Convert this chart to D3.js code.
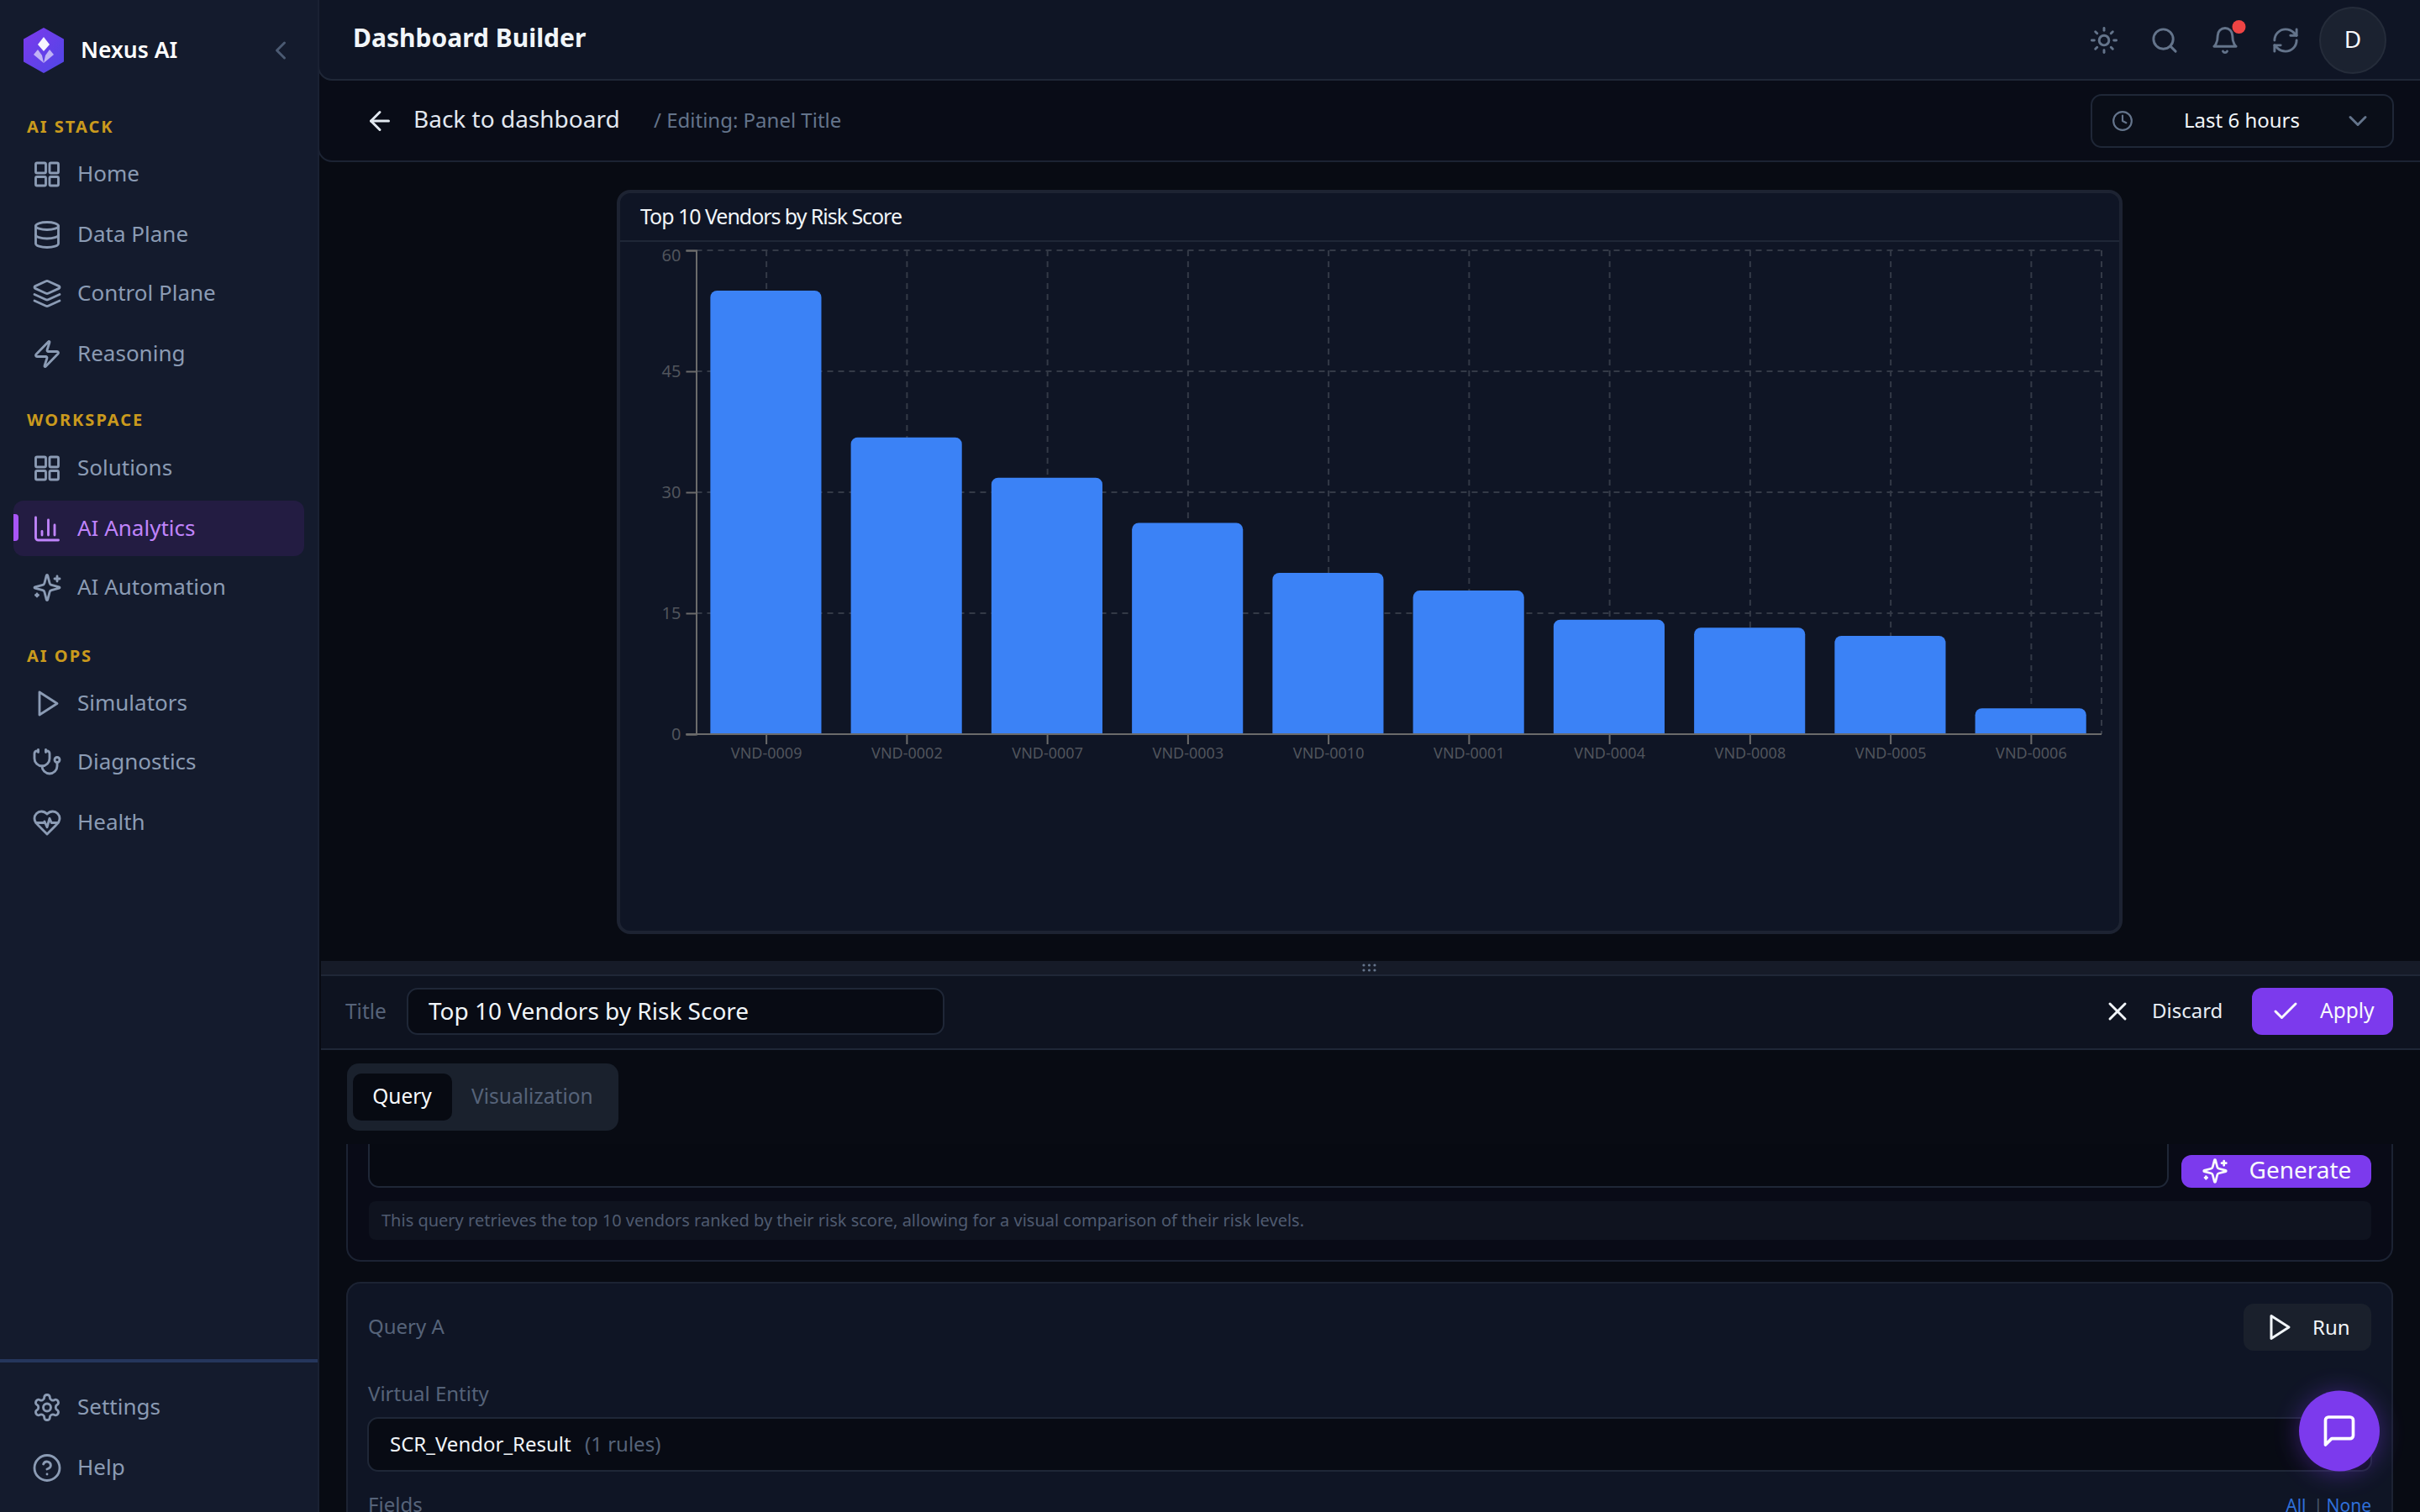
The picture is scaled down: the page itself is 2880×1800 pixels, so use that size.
<!DOCTYPE html>
<html>
<head>
<meta charset="utf-8">
<title>Dashboard Builder</title>
<script src="https://cdn.jsdelivr.net/npm/d3@7"></script>
<style>
html, body { margin: 0; padding: 0; background: #080b13; overflow: hidden; }
svg { display: block; }
text { font-family: "Noto Sans", sans-serif; }
</style>
</head>
<body>
<svg id="page" width="2880" height="1800"></svg>
<script>
// chart data
var vendors = ["VND-0009", "VND-0002", "VND-0007", "VND-0003", "VND-0010", "VND-0001", "VND-0004", "VND-0008", "VND-0005", "VND-0006"];
var riskScores = [55, 36.8, 31.8, 26.2, 20, 17.8, 14.2, 13.2, 12.2, 3.2];
var yTicks = [0, 15, 30, 45, 60];

// sidebar labels
var stackItems = ["Home", "Data Plane", "Control Plane", "Reasoning"];
var workspaceItems = ["Solutions", "AI Analytics", "AI Automation"];
var opsItems = ["Simulators", "Diagnostics", "Health"];
var footerItems = ["Settings", "Help"];

// lucide icon shapes
var icons = {
  grid: ["M4 3h6a1 1 0 0 1 1 1v6a1 1 0 0 1-1 1H4a1 1 0 0 1-1-1V4a1 1 0 0 1 1-1z", "M15 3h5a1 1 0 0 1 1 1v6a1 1 0 0 1-1 1h-5a1 1 0 0 1-1-1V4a1 1 0 0 1 1-1z", "M15 14h5a1 1 0 0 1 1 1v5a1 1 0 0 1-1 1h-5a1 1 0 0 1-1-1v-5a1 1 0 0 1 1-1z", "M4 14h6a1 1 0 0 1 1 1v5a1 1 0 0 1-1 1H4a1 1 0 0 1-1-1v-5a1 1 0 0 1 1-1z"],
  database: ["M3 5a9 3 0 1 0 18 0a9 3 0 1 0-18 0", "M3 5V19A9 3 0 0 0 21 19V5", "M3 12A9 3 0 0 0 21 12"],
  layers: ["m12.83 2.18a2 2 0 0 0-1.66 0L2.6 6.08a1 1 0 0 0 0 1.83l8.58 3.91a2 2 0 0 0 1.66 0l8.58-3.9a1 1 0 0 0 0-1.83Z", "m22 17.65-9.17 4.16a2 2 0 0 1-1.66 0L2 17.65", "m22 12.65-9.17 4.16a2 2 0 0 1-1.66 0L2 12.65"],
  zap: ["M4 14a1 1 0 0 1-.78-1.63l9.9-10.2a.5.5 0 0 1 .86.46l-1.92 6.02A1 1 0 0 0 13 10h7a1 1 0 0 1 .78 1.63l-9.9 10.2a.5.5 0 0 1-.86-.46l1.92-6.02A1 1 0 0 0 11 14z"],
  chart: ["M3 3v16a2 2 0 0 0 2 2h16", "M8 17v-3", "M13 17V5", "M18 17V9"],
  sparkles: ["M9.937 15.5A2 2 0 0 0 8.5 14.063l-6.135-1.582a.5.5 0 0 1 0-.962L8.5 9.936A2 2 0 0 0 9.937 8.5l1.582-6.135a.5.5 0 0 1 .963 0L14.063 8.5A2 2 0 0 0 15.5 9.937l6.135 1.581a.5.5 0 0 1 0 .964L15.5 14.063a2 2 0 0 0-1.437 1.437l-1.582 6.135a.5.5 0 0 1-.963 0z", "M20 3v4", "M22 5h-4", "M4 17v2", "M5 18H3"],
  play: ["M6 3l14 9-14 9z"],
  stethoscope: ["M11 2v2", "M5 2v2", "M5 3H4a2 2 0 0 0-2 2v4a6 6 0 0 0 12 0V5a2 2 0 0 0-2-2h-1", "M8 15a6 6 0 0 0 12 0v-3", "M18 10a2 2 0 1 0 4 0a2 2 0 1 0-4 0"],
  heart: ["M19 14c1.49-1.46 3-3.21 3-5.5A5.5 5.5 0 0 0 16.5 3c-1.76 0-3 .5-4.5 2-1.5-1.5-2.74-2-4.5-2A5.5 5.5 0 0 0 2 8.5c0 2.3 1.5 4.05 3 5.5l7 7Z", "M3.22 12H9.5l.5-1 2 4.5 2-7 1.5 3.5h5.27"],
  settings: ["M12.22 2h-.44a2 2 0 0 0-2 2v.18a2 2 0 0 1-1 1.73l-.43.25a2 2 0 0 1-2 0l-.15-.08a2 2 0 0 0-2.73.73l-.22.38a2 2 0 0 0 .73 2.73l.15.1a2 2 0 0 1 1 1.72v.51a2 2 0 0 1-1 1.74l-.15.09a2 2 0 0 0-.73 2.73l.22.38a2 2 0 0 0 2.73.73l.15-.08a2 2 0 0 1 2 0l.43.25a2 2 0 0 1 1 1.73V20a2 2 0 0 0 2 2h.44a2 2 0 0 0 2-2v-.18a2 2 0 0 1 1-1.73l.43-.25a2 2 0 0 1 2 0l.15.08a2 2 0 0 0 2.73-.73l.22-.39a2 2 0 0 0-.73-2.73l-.15-.08a2 2 0 0 1-1-1.74v-.5a2 2 0 0 1 1-1.74l.15-.09a2 2 0 0 0 .73-2.73l-.22-.38a2 2 0 0 0-2.73-.73l-.15.08a2 2 0 0 1-2 0l-.43-.25a2 2 0 0 1-1-1.73V4a2 2 0 0 0-2-2z", "M9 12a3 3 0 1 0 6 0a3 3 0 1 0-6 0"],
  help: ["M2 12a10 10 0 1 0 20 0a10 10 0 1 0-20 0", "M9.09 9a3 3 0 0 1 5.83 1c0 2-3 3-3 3", "M12 17h.01"],
  sun: ["M8 12a4 4 0 1 0 8 0a4 4 0 1 0-8 0", "M12 2v2", "M12 20v2", "m4.93 4.93 1.41 1.41", "m17.66 17.66 1.41 1.41", "M2 12h2", "M20 12h2", "m6.34 17.66-1.41 1.41", "m19.07 4.93-1.41 1.41"],
  search: ["M3 11a8 8 0 1 0 16 0a8 8 0 1 0-16 0", "m21 21-4.3-4.3"],
  bell: ["M6 8a6 6 0 0 1 12 0c0 7 3 9 3 9H3s3-2 3-9", "M10.3 21a1.94 1.94 0 0 0 3.4 0"],
  refresh: ["M3 12a9 9 0 0 1 9-9 9.75 9.75 0 0 1 6.74 2.74L21 8", "M21 3v5h-5", "M21 12a9 9 0 0 1-9 9 9.75 9.75 0 0 1-6.74-2.74L3 16", "M8 16H3v5"],
  clock: ["M2 12a10 10 0 1 0 20 0a10 10 0 1 0-20 0", "M12 6v6l4 2"],
  chevronDown: ["m6 9 6 6 6-6"],
  chevronLeft: ["m15 18-6-6 6-6"],
  arrowLeft: ["m12 19-7-7 7-7", "M19 12H5"],
  x: ["M18 6 6 18", "m6 6 12 12"],
  check: ["M20 6 9 17l-5-5"],
  message: ["M21 15a2 2 0 0 1-2 2H7l-4 4V5a2 2 0 0 1 2-2h14a2 2 0 0 1 2 2z"]
};

var svg = d3.select("#page");

// glow for the chat button
var defs = svg.append("defs");
var grad = defs.append("linearGradient").attr("id", "logoGrad")
  .attr("x1", 0).attr("y1", 0).attr("x2", 1).attr("y2", 1);
grad.append("stop").attr("offset", 0).attr("stop-color", "#7c3aed");
grad.append("stop").attr("offset", 1).attr("stop-color", "#4f46e5");
var glow = defs.append("filter").attr("id", "glow")
  .attr("x", "-50%").attr("y", "-50%").attr("width", "200%").attr("height", "200%");
glow.append("feGaussianBlur").attr("stdDeviation", 14);
defs.append("clipPath").attr("id", "scrollClip").append("rect")
  .attr("x", 382).attr("y", 1362).attr("width", 2498).attr("height", 438);

function box(parent, x, y, w, h, r, fill, stroke, sw) {
  return parent.append("rect")
    .attr("x", x).attr("y", y).attr("width", w).attr("height", h).attr("rx", r)
    .attr("fill", fill)
    .attr("stroke", stroke || "none")
    .attr("stroke-width", sw || 0);
}

function label(parent, str, x, y, size, color, weight, anchor) {
  return parent.append("text")
    .attr("x", x).attr("y", y)
    .attr("font-size", size)
    .attr("font-weight", weight || 400)
    .attr("fill", color)
    .attr("text-anchor", anchor || "start")
    .text(str);
}

function icon(parent, name, cx, cy, size, color, sw) {
  var k = size / 24;
  var g = parent.append("g")
    .attr("transform", "translate(" + (cx - size / 2) + "," + (cy - size / 2) + ") scale(" + k + ")")
    .attr("fill", "none")
    .attr("stroke", color)
    .attr("stroke-width", sw || 2)
    .attr("stroke-linecap", "round")
    .attr("stroke-linejoin", "round");
  g.selectAll("path").data(icons[name]).enter().append("path").attr("d", function (d) { return d; });
  return g;
}

//
// Header bars
//
var head = svg.append("g");
box(head, 379, 60, 2522, 132, 16, "#090c17", "#1c2333", 2);
box(head, 379, -30, 2522, 125, 16, "#0f1525", "#1f2737", 2);
label(head, "Dashboard Builder", 420, 56, 30, "#f1f5f9", 700);
icon(head, "sun", 2504, 48, 35, "#64748b");
icon(head, "search", 2576, 48, 35, "#64748b");
icon(head, "bell", 2648, 48, 35, "#64748b");
head.append("circle").attr("cx", 2664.5).attr("cy", 32).attr("r", 8).attr("fill", "#ef4444");
icon(head, "refresh", 2720, 48, 35, "#64748b");
head.append("circle").attr("cx", 2800).attr("cy", 48).attr("r", 39).attr("fill", "#1b2230").attr("stroke", "#252c3a").attr("stroke-width", 2);
label(head, "D", 2800, 57, 28, "#f8fafc", 400, "middle");

icon(head, "arrowLeft", 452, 144, 36, "#e2e8f0");
label(head, "Back to dashboard", 492, 152, 28, "#e2e8f0");
label(head, "/ Editing: Panel Title", 778, 152, 24, "#64748b");
box(head, 2489, 113, 359, 62, 12, "#0a0e18", "#1f2737", 2);
icon(head, "clock", 2526, 144, 26, "#64748b");
label(head, "Last 6 hours", 2599, 152, 24, "#f1f5f9");
icon(head, "chevronDown", 2806, 144, 36, "#64748b");

//
// Sidebar
//
var side = svg.append("g");
box(side, 0, 0, 380, 1800, 0, "#141b2d");
side.append("rect").attr("x", 378).attr("y", 0).attr("width", 2).attr("height", 1800).attr("fill", "#1a2133");

side.append("path").attr("d", "M52 34L75 47V73L52 86L29 73V47Z").attr("fill", "url(#logoGrad)")
  .attr("stroke", "url(#logoGrad)").attr("stroke-width", 2).attr("stroke-linejoin", "round");
side.append("path").attr("d", "M52 44L59 53L52 61L45 53Z").attr("fill", "#fff").attr("opacity", 0.95);
side.append("path").attr("d", "M45 59L50 66L52 75L40 65Z").attr("fill", "#fff").attr("opacity", 0.6);
side.append("path").attr("d", "M59 59L54 66L52 75L64 65Z").attr("fill", "#fff").attr("opacity", 0.6);
label(side, "Nexus AI", 96, 69, 26.5, "#ffffff", 600);
icon(side, "chevronLeft", 334, 60, 36, "#4b5a72");

var gold = "#ca9a1d";
label(side, "AI STACK", 32, 158, 20, gold, 700).attr("letter-spacing", 2);
label(side, "WORKSPACE", 32, 507, 20, gold, 700).attr("letter-spacing", 2);
label(side, "AI OPS", 32, 787.5, 20, gold, 700).attr("letter-spacing", 2);

box(side, 16, 596, 346, 66, 12, "#231c42");
side.append("path").attr("d", "M16 612h2a4 4 0 0 1 4 4v24a4 4 0 0 1-4 4h-2z").attr("fill", "#a855f7");

var stackIcons = ["grid", "database", "layers", "zap"];
var workspaceIcons = ["grid", "chart", "sparkles"];
var opsIcons = ["play", "stethoscope", "heart"];
var footerIcons = ["settings", "help"];

function navGroup(items, names, baselines) {
  items.forEach(function (name, i) {
    var active = name === "AI Analytics";
    var color = active ? "#c084fc" : "#8b9bb4";
    icon(side, names[i], 56, baselines[i] - 8.5, 36, color, 1.9);
    label(side, name, 92, baselines[i], 26, color);
  });
}
navGroup(stackItems, stackIcons, [216, 288, 358, 430]);
navGroup(workspaceItems, workspaceIcons, [566, 638, 708]);
navGroup(opsItems, opsIcons, [846, 916, 988]);

side.append("rect").attr("x", 0).attr("y", 1618).attr("width", 378).attr("height", 4).attr("fill", "#25365c");
navGroup(footerItems, footerIcons, [1684, 1756]);

//
// Panel with the chart
//
var panel = svg.append("g");
box(panel, 736, 228, 1788, 882, 14, "#0f1525", "#1d2332", 4);
panel.append("line").attr("x1", 738).attr("x2", 2522).attr("y1", 287).attr("y2", 287).attr("stroke", "#1f2737").attr("stroke-width", 2);
label(panel, "Top 10 Vendors by Risk Score", 762, 267, 25, "#f1f5f9").attr("letter-spacing", -1.05);

var plot = { left: 828.5, right: 2501, top: 298, bottom: 874 };

var x = d3.scaleBand()
  .domain(vendors)
  .range([plot.left, plot.right])
  .paddingInner(0.21)
  .paddingOuter(0.105);

var y = d3.scaleLinear()
  .domain([0, 60])
  .range([plot.bottom, plot.top]);

var chart = panel.append("g");

// dashed grid, under the bars
var grid = chart.append("g")
  .attr("stroke", "#343a47")
  .attr("stroke-width", 2)
  .attr("stroke-dasharray", "7 6");

grid.selectAll("line.h").data(yTicks.filter(function (d) { return d > 0; })).enter().append("line")
  .attr("class", "h")
  .attr("x1", plot.left).attr("x2", plot.right)
  .attr("y1", function (d) { return y(d); })
  .attr("y2", function (d) { return y(d); });

grid.selectAll("line.v").data(vendors).enter().append("line")
  .attr("class", "v")
  .attr("x1", function (d) { return x(d) + x.bandwidth() / 2; })
  .attr("x2", function (d) { return x(d) + x.bandwidth() / 2; })
  .attr("y1", plot.top).attr("y2", plot.bottom);

grid.append("line")
  .attr("x1", plot.right).attr("x2", plot.right)
  .attr("y1", plot.top).attr("y2", plot.bottom);

// bars, rounded on top only
var barRadius = 8;
chart.append("g").attr("transform", "translate(-0.7,0)")
  .selectAll("path.bar").data(vendors).enter().append("path")
  .attr("class", "bar")
  .attr("fill", "#3b82f6")
  .attr("d", function (d, i) {
    var p = d3.path();
    var x0 = x(d), x1 = x0 + x.bandwidth(), top = y(riskScores[i]), base = y(0);
    p.moveTo(x0, base);
    p.lineTo(x0, top + barRadius);
    p.arcTo(x0, top, x0 + barRadius, top, barRadius);
    p.lineTo(x1 - barRadius, top);
    p.arcTo(x1, top, x1, top + barRadius, barRadius);
    p.lineTo(x1, base);
    p.closePath();
    return p.toString();
  });

// axes
var yAxis = d3.axisLeft(y).tickValues(yTicks).tickSize(12).tickPadding(6);
var xAxis = d3.axisBottom(x).tickSize(12).tickPadding(6).tickSizeOuter(0);

var yG = chart.append("g").attr("transform", "translate(" + plot.left + ",0)").call(yAxis);
var xG = chart.append("g").attr("transform", "translate(0," + plot.bottom + ")").call(xAxis);

[yG, xG].forEach(function (g) {
  g.selectAll("path.domain").attr("stroke", "#6b6b6b").attr("stroke-width", 2);
  g.selectAll(".tick line").attr("stroke", "#6b6b6b").attr("stroke-width", 2);
  g.selectAll(".tick text").attr("fill", "#50545c").attr("font-family", '"Noto Sans", sans-serif');
});
yG.selectAll(".tick text").attr("font-size", 20);
xG.selectAll(".tick text").attr("font-size", 18).attr("dy", "0.6em");
// the top label sits below its tick so it stays inside the plot
yG.selectAll(".tick text").filter(function (d) { return d === 60; }).attr("dy", "0.6em");
xG.select("path.domain").attr("d", "M" + (plot.left - 12) + ",0H" + plot.right);

//
// Title bar of the editor
//
var edit = svg.append("g");
edit.append("rect").attr("x", 382).attr("y", 1144).attr("width", 2498).attr("height", 17).attr("fill", "#161b28");
edit.append("rect").attr("x", 382).attr("y", 1160).attr("width", 2498).attr("height", 89).attr("fill", "#0e1320");
edit.append("rect").attr("x", 382).attr("y", 1160).attr("width", 2498).attr("height", 2).attr("fill", "#1f2737");
edit.append("rect").attr("x", 382).attr("y", 1248).attr("width", 2498).attr("height", 2).attr("fill", "#1f2737");
edit.selectAll("circle.grip").data([0, 1, 2, 3, 4, 5]).enter().append("circle")
  .attr("class", "grip")
  .attr("cx", function (d) { return 1623 + (d % 3) * 6.5; })
  .attr("cy", function (d) { return 1149 + Math.floor(d / 3) * 6; })
  .attr("r", 1.6).attr("fill", "#64748b");

label(edit, "Title", 411, 1213, 24.5, "#566379");
box(edit, 485, 1177, 638, 54, 12, "#080b14", "#1f2737", 2);
label(edit, "Top 10 Vendors by Risk Score", 510, 1214, 28, "#f1f5f9");
icon(edit, "x", 2520, 1204, 36, "#f1f5f9");
label(edit, "Discard", 2561, 1212, 24, "#e8edf4");
box(edit, 2680, 1176, 168, 56, 12, "#7c3aed");
icon(edit, "check", 2720, 1204, 36, "#f8fafc");
label(edit, "Apply", 2761, 1212, 24.5, "#f8fafc");

box(edit, 413, 1266, 323, 80, 14, "#1a212d");
box(edit, 420, 1278, 118, 56, 10, "#070a12");
label(edit, "Query", 478.5, 1314, 24.5, "#f8fafc", 400, "middle");
label(edit, "Visualization", 561, 1314, 24.5, "#566379");

//
// Scrolled query cards
//
var scroll = svg.append("g").attr("clip-path", "url(#scrollClip)");
box(scroll, 413, 1300, 2434, 201, 16, "#090b17", "#1c2333", 2);
box(scroll, 439, 1300, 2141, 113, 12, "#070a12", "#1f2737", 2);
box(scroll, 2596, 1375, 226, 39, 12, "#7c3aed");
icon(scroll, "sparkles", 2636, 1394, 32, "#f8fafc");
label(scroll, "Generate", 2676.5, 1403, 28, "#f8fafc");
box(scroll, 439, 1430, 2383, 46, 8, "#0f131f");
label(scroll, "This query retrieves the top 10 vendors ranked by their risk score, allowing for a visual comparison of their risk levels.", 454, 1460, 20, "#4f5b70");

box(scroll, 413, 1527, 2434, 400, 16, "#0f1525", "#1c2333", 2);
label(scroll, "Query A", 438, 1588, 24, "#566379");
box(scroll, 2670, 1552, 152, 56, 12, "#1a202c");
icon(scroll, "play", 2712, 1580, 36, "#f1f5f9");
label(scroll, "Run", 2752, 1589, 24, "#f1f5f9");
label(scroll, "Virtual Entity", 438, 1668, 24, "#566379");
box(scroll, 438, 1688, 2384, 63, 12, "#080b14", "#1f2737", 2);
label(scroll, "SCR_Vendor_Result", 464, 1728, 24, "#f1f5f9");
label(scroll, "(1 rules)", 696, 1728, 24, "#566379");
label(scroll, "Fields", 438, 1800, 24, "#566379");
label(scroll, "All", 2744.5, 1800, 21, "#2f6fd8", 400, "end");
label(scroll, "|", 2753, 1800, 21, "#475569");
label(scroll, "None", 2822, 1800, 21, "#2f6fd8", 400, "end");

// chat button
var fab = svg.append("g");
fab.append("circle").attr("cx", 2784).attr("cy", 1706).attr("r", 50).attr("fill", "#7c3aed").attr("opacity", 0.35).attr("filter", "url(#glow)");
fab.append("circle").attr("cx", 2784).attr("cy", 1703.5).attr("r", 48).attr("fill", "#7c3aed");
icon(fab, "message", 2784, 1703.5, 44, "#ffffff", 2);
</script>
</body>
</html>
